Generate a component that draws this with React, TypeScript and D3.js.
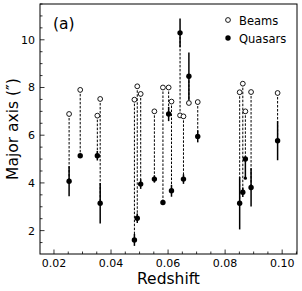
import { useEffect, useRef } from 'react';
import * as d3 from 'd3';

// redshift of each source, beam major axis, quasar major axis (arcsec)
const redshift = [0.0253, 0.0292, 0.0352, 0.0362, 0.0482, 0.0492, 0.0504, 0.0552, 0.0582, 0.0602, 0.0612, 0.0642, 0.0654, 0.0673, 0.0704, 0.0851, 0.0862, 0.0871, 0.0891, 0.0984];
const beamAxis = [6.89, 7.9, 6.82, 7.52, 7.49, 8.05, 7.73, 7.0, 8.0, 8.0, 7.41, 6.83, 6.79, 7.35, 7.39, 7.8, 8.16, 7.0, 7.81, 7.77];
const quasarAxis = [4.07, 5.14, 5.14, 3.15, 1.61, 2.52, 3.95, 4.16, 3.18, 6.89, 3.67, 10.29, 4.16, 8.47, 5.95, 3.15, 3.61, 5.0, 3.81, 5.77];
const errLow = [0.63, 0.05, 0.2, 0.85, 0.25, 0.2, 0.2, 0.15, 0.1, 0.3, 0.25, 0.6, 0.2, 1.0, 0.25, 1.1, 0.2, 0.8, 0.8, 0.82];
const errHigh = [0.63, 0.05, 0.2, 0.85, 0.25, 0.2, 0.2, 0.15, 0.1, 0.3, 0.25, 0.6, 0.2, 1.0, 0.25, 1.1, 0.2, 0.05, 0.8, 0.82];

const xTicks = [0.02, 0.04, 0.06, 0.08, 0.10];
const yTicks = [2, 4, 6, 8, 10];
const legendLabels = ['Beams', 'Quasars'];

const width = 302, height = 291;
const margin = { top: 4, right: 5, bottom: 37, left: 40 };
const font = 'DejaVu Sans, sans-serif';

const App = () => {
    const ref = useRef(null);

    useEffect(() => {
        const svg = d3.select(ref.current);
        svg.selectAll('*').remove();

        const innerW = width - margin.left - margin.right;
        const innerH = height - margin.top - margin.bottom;

        const x = d3.scaleLinear().domain([0.0151, 0.1052]).range([0, innerW]);
        const y = d3.scaleLinear().domain([1.02, 11.5]).range([innerH, 0]);

        const g = svg.append('g').attr('transform', `translate(${margin.left},${margin.top})`);

        // minor ticks, pointing inwards
        const xMinor = d3.range(0.02, 0.1051, 0.005);
        g.selectAll('.xminor').data(xMinor).enter().append('line')
            .attr('x1', (d) => x(d)).attr('x2', (d) => x(d))
            .attr('y1', innerH).attr('y2', (d) => innerH - (xTicks.some((t) => Math.abs(t - d) < 1e-6) ? 4.5 : 2.5))
            .attr('stroke', '#000').attr('stroke-width', 0.8);

        const yMinor = d3.range(1.5, 11.51, 0.5);
        g.selectAll('.yminor').data(yMinor).enter().append('line')
            .attr('y1', (d) => y(d)).attr('y2', (d) => y(d))
            .attr('x1', 0).attr('x2', (d) => (yTicks.includes(d) ? 4.5 : 2.5))
            .attr('stroke', '#000').attr('stroke-width', 0.8);

        g.selectAll('.xlab').data(xTicks).enter().append('text')
            .attr('x', (d) => x(d)).attr('y', innerH + 13)
            .attr('text-anchor', 'middle').attr('font-family', font).attr('font-size', 11)
            .text((d) => d.toFixed(2));

        g.selectAll('.ylab').data(yTicks).enter().append('text')
            .attr('x', -5).attr('y', (d) => y(d) + 4)
            .attr('text-anchor', 'end').attr('font-family', font).attr('font-size', 11)
            .text((d) => d);

        // dashed connectors beam -> quasar
        redshift.forEach((z, i) => {
            g.append('line')
                .attr('x1', x(z)).attr('x2', x(z))
                .attr('y1', y(beamAxis[i])).attr('y2', y(quasarAxis[i]))
                .attr('stroke', '#000').attr('stroke-width', 1)
                .attr('stroke-dasharray', '2.5,1.5');
        });

        // error bars
        redshift.forEach((z, i) => {
            g.append('line')
                .attr('x1', x(z)).attr('x2', x(z))
                .attr('y1', y(quasarAxis[i] + errHigh[i])).attr('y2', y(quasarAxis[i] - errLow[i]))
                .attr('stroke', '#000').attr('stroke-width', 1.5);
        });
        // small marker at the lower end of the one-sided bar
        g.append('circle')
            .attr('cx', x(redshift[17])).attr('cy', y(quasarAxis[17] - errLow[17]))
            .attr('r', 1.6).attr('fill', '#000');

        g.selectAll('.beam').data(redshift).enter().append('circle')
            .attr('cx', (d) => x(d)).attr('cy', (d, i) => y(beamAxis[i]))
            .attr('r', 2.4).attr('fill', '#fff').attr('stroke', '#000').attr('stroke-width', 0.9);

        g.selectAll('.quasar').data(redshift).enter().append('circle')
            .attr('cx', (d) => x(d)).attr('cy', (d, i) => y(quasarAxis[i]))
            .attr('r', 2.7).attr('fill', '#000');

        // frame
        g.append('rect').attr('width', innerW).attr('height', innerH)
            .attr('fill', 'none').attr('stroke', '#000').attr('stroke-width', 1);

        // legend
        const legend = g.append('g').attr('transform', `translate(${innerW - 69},16)`);
        legendLabels.forEach((label, i) => {
            const row = legend.append('g').attr('transform', `translate(0,${i * 18})`);
            row.append('circle').attr('r', i === 0 ? 2.4 : 2.7)
                .attr('fill', i === 0 ? '#fff' : '#000').attr('stroke', '#000').attr('stroke-width', i === 0 ? 0.9 : 0);
            row.append('text').attr('x', 11).attr('y', 4.5)
                .attr('font-family', font).attr('font-size', 11.5).text(label);
        });

        g.append('text').attr('x', 13).attr('y', 25)
            .attr('font-family', font).attr('font-size', 15.5).text('(a)');

        svg.append('text')
            .attr('x', margin.left + innerW / 2).attr('y', height - 7)
            .attr('text-anchor', 'middle').attr('font-family', font).attr('font-size', 15.5)
            .text('Redshift');

        svg.append('text')
            .attr('transform', `translate(18,${margin.top + innerH / 2}) rotate(-90)`)
            .attr('text-anchor', 'middle').attr('font-family', font).attr('font-size', 15.5)
            .text('Major axis (″)');
    }, []);

    return (
        <svg ref={ref} width={width} height={height}
            style={{ position: 'absolute', left: 0, top: 0, background: '#fff' }} />
    );
};

export default App;
